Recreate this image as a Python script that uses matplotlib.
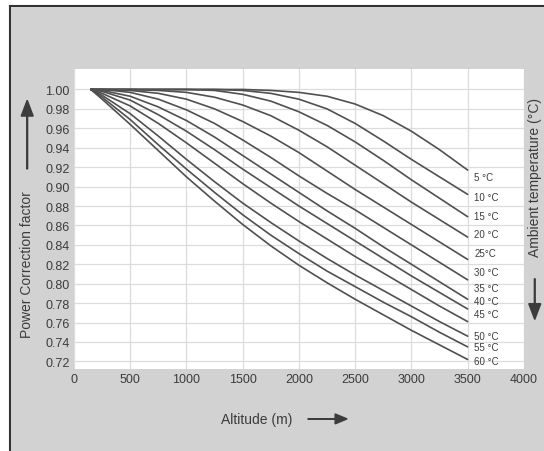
import numpy as np
import matplotlib.pyplot as plt

# altitude (m) where each curve is read
altitude = [150, 250, 500, 750, 1000, 1250, 1500, 1750, 2000, 2250, 2500, 2750, 3000, 3250, 3500]

temps = ["5 °C", "10 °C", "15 °C", "20 °C", "25°C", "30 °C", "35 °C",
         "40 °C", "45 °C", "50 °C", "55 °C", "60 °C"]

t05 = [1.0, 1.0, 1.0, 1.0, 1.0, 1.0, 1.0, 0.999, 0.997, 0.993, 0.985, 0.973, 0.957, 0.938, 0.917]
t10 = [1.0, 1.0, 1.0, 1.0, 1.0, 1.0, 0.999, 0.996, 0.990, 0.980, 0.965, 0.947, 0.928, 0.910, 0.892]
t15 = [1.0, 1.0, 1.0, 1.0, 1.0, 0.999, 0.995, 0.988, 0.977, 0.963, 0.946, 0.927, 0.907, 0.888, 0.869]
t20 = [1.0, 1.0, 1.0, 0.999, 0.997, 0.992, 0.984, 0.973, 0.958, 0.941, 0.922, 0.903, 0.884, 0.866, 0.848]
t25 = [1.0, 1.0, 0.999, 0.996, 0.990, 0.980, 0.967, 0.952, 0.935, 0.916, 0.897, 0.879, 0.861, 0.843, 0.825]
t30 = [1.0, 1.0, 0.997, 0.990, 0.979, 0.965, 0.948, 0.930, 0.911, 0.893, 0.876, 0.858, 0.840, 0.822, 0.804]
t35 = [1.0, 0.999, 0.993, 0.982, 0.968, 0.951, 0.932, 0.913, 0.894, 0.875, 0.857, 0.838, 0.820, 0.802, 0.784]
t40 = [1.0, 0.998, 0.989, 0.974, 0.957, 0.938, 0.918, 0.899, 0.880, 0.862, 0.844, 0.826, 0.808, 0.791, 0.774]
t45 = [1.0, 0.996, 0.983, 0.965, 0.945, 0.924, 0.903, 0.883, 0.864, 0.846, 0.828, 0.811, 0.794, 0.777, 0.761]
t50 = [1.0, 0.994, 0.975, 0.952, 0.928, 0.905, 0.883, 0.863, 0.844, 0.826, 0.809, 0.793, 0.777, 0.761, 0.746]
t55 = [1.0, 0.992, 0.969, 0.943, 0.918, 0.894, 0.871, 0.850, 0.831, 0.813, 0.797, 0.781, 0.766, 0.750, 0.735]
t60 = [1.0, 0.990, 0.964, 0.937, 0.910, 0.885, 0.861, 0.839, 0.819, 0.801, 0.784, 0.768, 0.752, 0.737, 0.722]
curves = [t05, t10, t15, t20, t25, t30, t35, t40, t45, t50, t55, t60]

xticks = [0, 500, 1000, 1500, 2000, 2500, 3000, 3500, 4000]
yticks = [0.72, 0.74, 0.76, 0.78, 0.80, 0.82, 0.84, 0.86, 0.88, 0.90, 0.92, 0.94, 0.96, 0.98, 1.00]

plt.rcParams["font.family"] = ["Liberation Sans", "DejaVu Sans"]
bg = "#d2d2d2"
ink = "#3c3c3c"

fig = plt.figure(figsize=(5.44, 4.52), dpi=100, facecolor=bg)
ax = fig.add_axes([0.136, 0.181, 0.827, 0.664])
ax.set_facecolor("white")

for vals in curves:
    ax.plot(altitude, vals, color="#505050", lw=1.2, solid_capstyle="round",
            solid_joinstyle="round")

# temperature labels next to the curve ends
label_dy = [-0.007, -0.003, 0.001, 0.003, 0.007, 0.008, 0.012, 0.008, 0.008, 0.0, 0.0, -0.002]
for name, vals, dy in zip(temps, curves, label_dy):
    ax.text(3560, vals[-1] + dy, name, fontsize=7, color=ink, va="center", ha="left")

ax.set_xlim(0, 4000)
ax.set_ylim(0.712, 1.021)
ax.set_xticks(xticks)
ax.set_yticks(yticks)
ax.set_yticklabels([f"{v:.2f}" for v in yticks])
ax.grid(True, color="#dcdcdc", lw=0.9)
ax.set_axisbelow(True)
ax.tick_params(length=0, labelsize=9, colors=ink, pad=3)
for s in ax.spines.values():
    s.set_visible(False)

# axis titles with arrows
fig.text(0.471, 0.071, "Altitude (m)", fontsize=10, color=ink, ha="center", va="center")
fig.patches.append(plt.matplotlib.patches.FancyArrow(
    0.566, 0.071, 0.072, 0, width=0.001, head_width=0.022, head_length=0.022,
    length_includes_head=True, color=ink, transform=fig.transFigure))
fig.text(0.05, 0.414, "Power Correction factor", fontsize=10, color=ink,
         rotation=90, ha="center", va="center")
fig.patches.append(plt.matplotlib.patches.FancyArrow(
    0.05, 0.624, 0, 0.152, width=0.0015, head_width=0.022, head_length=0.035,
    length_includes_head=True, color=ink, transform=fig.transFigure))
fig.text(0.983, 0.608, "Ambient temperature (°C)", fontsize=10, color=ink,
         rotation=90, ha="center", va="center")
fig.patches.append(plt.matplotlib.patches.FancyArrow(
    0.983, 0.381, 0, -0.09, width=0.0015, head_width=0.022, head_length=0.035,
    length_includes_head=True, color=ink, transform=fig.transFigure))

# dark frame at top and left edges
fig.patches.append(plt.Rectangle((0, 0.984), 1, 0.016, color="white", transform=fig.transFigure))
fig.patches.append(plt.Rectangle((0, 0), 0.018, 1, color="white", transform=fig.transFigure))
fig.lines.append(plt.Line2D([0.018, 1], [0.984, 0.984], color="#333333", lw=1.5, transform=fig.transFigure))
fig.lines.append(plt.Line2D([0.018, 0.018], [0, 0.984], color="#333333", lw=1.5, transform=fig.transFigure))

fig.savefig("out.png", dpi=100, facecolor=bg)
